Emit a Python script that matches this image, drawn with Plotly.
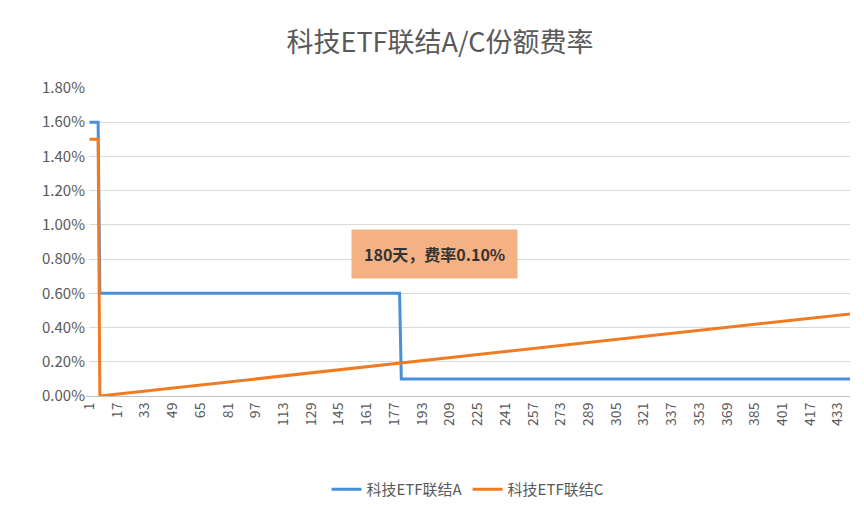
import plotly.graph_objects as go

days_a = [1, 6, 7, 180, 181, 440]
rate_a = [1.60, 1.60, 0.60, 0.60, 0.10, 0.10]
days_c = [1, 6, 7, 440]
rate_c = [1.50, 1.50, 0.00, 0.48]
tick_days = list(range(1, 434, 16))
y_ticks = [0, 0.2, 0.4, 0.6, 0.8, 1.0, 1.2, 1.4, 1.6, 1.8]

font = "Noto Sans CJK SC"
fig = go.Figure()
fig.add_trace(go.Scatter(x=days_a, y=rate_a, mode="lines", name="科技ETF联结A",
                         line=dict(color="#4A90D9", width=3)))
fig.add_trace(go.Scatter(x=days_c, y=rate_c, mode="lines", name="科技ETF联结C",
                         line=dict(color="#F07B22", width=3)))
fig.add_annotation(x=200, y=0.83, text="<b>180天，费率0.10%</b>", showarrow=False,
                   bgcolor="#F4B183", font=dict(size=16, color="#333", family=font),
                   borderpad=12)
fig.update_layout(
    width=864, height=510, plot_bgcolor="white", paper_bgcolor="white",
    font=dict(family=font, color="#595959"),
    title=dict(text="科技ETF联结A/C份额费率", x=0.5, y=0.95, font=dict(size=27, color="#595959")),
    margin=dict(l=78, r=22, t=80, b=112),
    legend=dict(orientation="h", x=0.5, xanchor="center", y=-0.25, font=dict(size=15)),
    xaxis=dict(range=[-1, 440], tickmode="array", tickvals=tick_days, tickangle=-90,
               showgrid=False, showline=True, linecolor="#bfbfbf", ticks="",
               tickfont=dict(size=14)),
    yaxis=dict(range=[0, 1.8], tickmode="array", tickvals=y_ticks,
               ticktext=[f"{v:.2f}%" for v in y_ticks], gridcolor="#d9d9d9",
               zeroline=False, tickfont=dict(size=15)),
)
fig.write_html("out.html")
